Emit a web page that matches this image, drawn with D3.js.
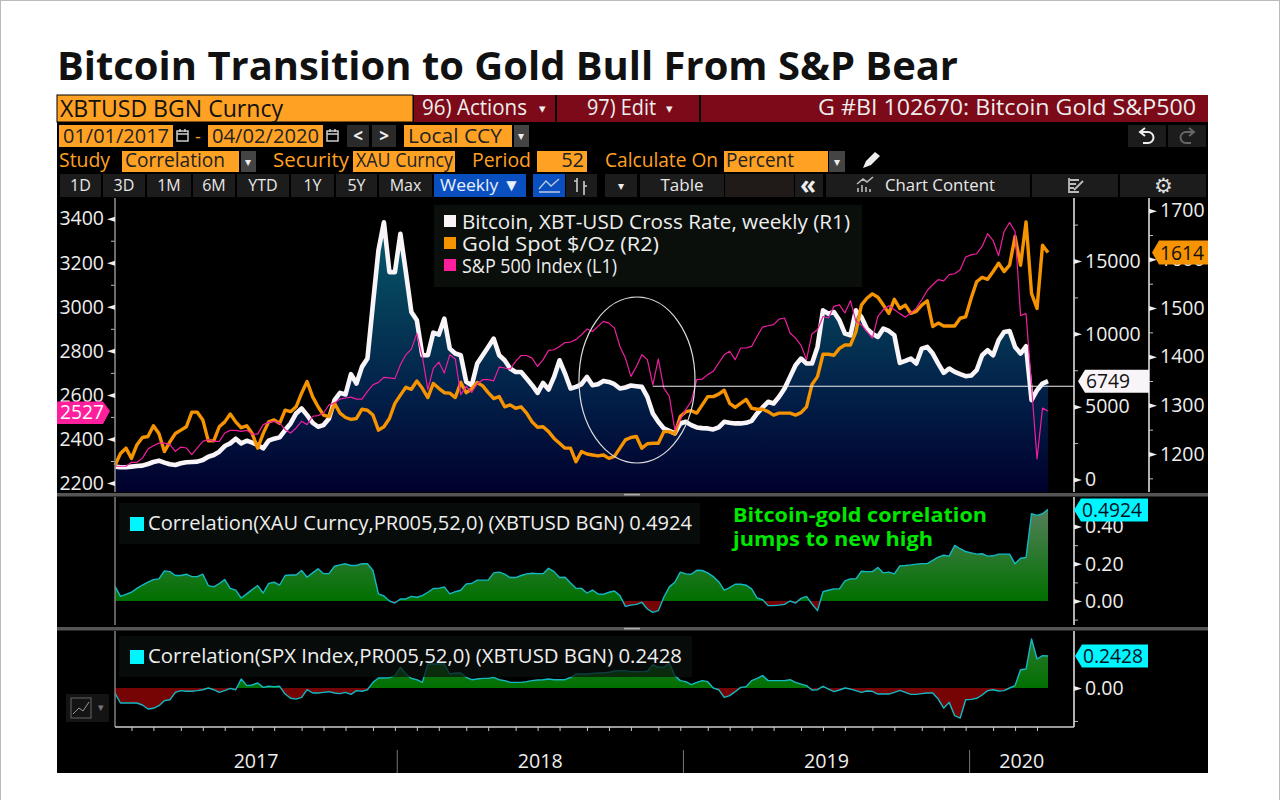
<!DOCTYPE html>
<html>
<head>
<meta charset="utf-8">
<script src="https://cdn.jsdelivr.net/npm/d3@7"></script>
<style>
  body { margin: 0; background: #fff; }
  svg { display: block; }
  text { font-family: "Open Sans", sans-serif; }
</style>
</head>
<body>
<script>
// weekly closes, first one is week ending 2017-01-06
const bitcoin = [883,837,837,883,928,951,1065,1202,1293,1156,1042,996,1111,1179,1202,1224,1339,1567,1681,1909,2298,2480,2800,2480,2663,2526,2366,2138,2663,2800,2891,3393,3850,4535,4878,4421,3896,3622,3736,4193,5448,5950,5836,7229,6590,7731,8302,12069,15721,17662,14238,14238,16863,14238,11498,10927,8530,8530,10083,9946,11043,8987,8645,8528,6700,6473,7960,8528,9097,9672,8528,8186,7617,7384,7384,6932,6473,5946,6630,6179,7042,8186,7275,6247,6357,6542,7042,6473,6542,6768,6700,6542,6247,6316,6453,6405,6357,5672,4535,3960,3507,3343,3165,3850,3960,3733,3576,3528,3507,3439,3576,3960,3891,3850,3850,3891,4028,4535,4946,5334,5220,5676,6247,7046,7845,8302,7959,7959,9101,11612,11384,11498,10927,10014,9900,11612,11155,10357,10014,9786,10357,10197,9900,8005,8142,8302,7959,8987,9101,8644,7959,7320,7617,7389,7229,7092,7137,7503,8530,8872,8530,9557,10128,10197,9101,8644,9147,5448,6133,6590,6749];
const gold = [1177,1201,1212,1191,1219,1234,1236,1258,1242,1205,1225,1242,1249,1256,1286,1286,1270,1227,1227,1256,1266,1282,1266,1254,1258,1242,1212,1242,1266,1270,1263,1290,1287,1297,1325,1349,1318,1297,1280,1277,1304,1284,1275,1271,1273,1292,1290,1280,1249,1256,1273,1304,1321,1337,1333,1350,1335,1316,1345,1335,1326,1325,1316,1347,1326,1334,1347,1340,1326,1314,1318,1297,1301,1294,1297,1284,1266,1255,1256,1246,1232,1222,1212,1212,1184,1205,1200,1198,1196,1198,1191,1195,1212,1229,1234,1236,1212,1221,1222,1222,1246,1246,1241,1277,1287,1289,1284,1301,1318,1318,1323,1331,1304,1296,1304,1312,1294,1292,1292,1287,1280,1284,1284,1284,1280,1285,1297,1343,1359,1405,1405,1403,1417,1424,1424,1451,1506,1520,1529,1522,1506,1489,1518,1499,1506,1489,1493,1506,1515,1462,1469,1463,1463,1463,1479,1482,1520,1554,1563,1559,1575,1592,1575,1588,1647,1588,1677,1530,1499,1629,1614];
const spx = [2276,2276,2276,2294,2294,2313,2354,2369,2381,2381,2374,2344,2363,2359,2329,2359,2389,2397,2389,2389,2427,2439,2439,2434,2439,2422,2422,2465,2475,2480,2472,2442,2427,2450,2480,2465,2503,2506,2518,2555,2563,2581,2586,2590,2581,2581,2616,2646,2657,2680,2677,2674,2737,2782,2808,2878,2775,2624,2720,2749,2699,2782,2763,2601,2639,2611,2651,2669,2669,2664,2726,2722,2717,2752,2779,2779,2767,2729,2760,2802,2805,2820,2838,2840,2851,2873,2899,2888,2911,2934,2926,2903,2820,2767,2684,2729,2782,2760,2646,2763,2631,2593,2442,2487,2533,2571,2669,2672,2692,2707,2745,2782,2798,2760,2813,2813,2820,2866,2908,2914,2919,2944,2949,2881,2858,2825,2760,2878,2896,2956,2949,3002,3009,2972,3028,2934,2919,2888,2858,2956,2987,3005,2987,2969,2953,2972,2994,3032,3074,3100,3123,3118,3146,3150,3168,3226,3236,3241,3274,3332,3301,3232,3342,3383,3342,2961,2969,2639,2309,2540,2527];
const corrGold = [.079,.025,.036,.047,.068,.086,.101,.115,.119,.162,.158,.137,.137,.144,.131,.131,.144,.083,.076,.094,.115,.068,.058,.016,.038,.061,.083,.043,.095,.101,.086,.137,.140,.140,.164,.128,.151,.173,.147,.147,.187,.194,.200,.191,.191,.201,.200,.164,.038,.027,0,-.011,.011,.011,.025,.020,.029,.047,.067,.068,.076,.038,.050,.058,.092,.094,.112,.112,.112,.151,.155,.144,.126,.126,.137,.146,.149,.147,.147,.176,.158,.126,.128,.097,.068,.068,.043,.059,.038,.036,.047,.054,.029,-.029,-.022,-.018,-.007,-.043,-.061,-.052,.020,.076,.101,.155,.146,.144,.165,.164,.151,.131,.104,.059,.072,.090,.090,.085,.065,.016,.007,-.025,-.025,-.022,-.018,0,-.011,.014,.025,-.016,-.052,.050,.058,.065,.065,.108,.119,.119,.160,.158,.158,.180,.151,.155,.146,.189,.191,.194,.198,.201,.201,.218,.236,.246,.241,.299,.281,.266,.259,.252,.254,.241,.243,.252,.252,.252,.200,.230,.234,.469,.460,.469,.4924];
const corrSpx = [-.041,-.114,-.114,-.114,-.114,-.129,-.159,-.154,-.134,-.096,-.089,-.033,-.020,-.025,-.025,-.020,-.013,0,-.013,-.033,-.020,-.003,-.013,.068,.018,.023,.038,.005,.013,.010,.013,-.046,-.078,-.084,-.071,-.013,-.038,-.038,-.033,-.028,-.038,-.043,-.033,-.048,-.020,-.025,-.013,.043,.076,.076,.078,.094,.157,.106,.073,.063,.043,.182,.182,.182,.182,.106,.114,.114,.081,.063,.068,.073,.073,.081,.063,.056,.043,.043,.043,.048,.056,.061,.063,.068,.063,.063,.063,.081,.106,.106,.106,.111,.114,.114,.119,.129,.132,.132,.124,.124,.124,.127,.177,.157,.157,.190,.094,.056,.048,.025,.043,.056,.048,0,-.013,-.071,-.058,-.028,.005,.010,.056,.073,.094,.056,.056,.056,.056,.063,.043,.030,.018,-.015,-.013,.013,-.008,-.028,-.015,0,-.008,-.020,-.033,-.023,-.025,-.046,-.046,-.046,-.033,-.018,-.033,-.048,-.048,-.043,-.038,-.038,-.084,-.152,-.109,-.210,-.228,-.089,-.086,-.078,-.053,-.020,-.013,-.023,-.020,0,.018,.139,.144,.372,.220,.246,.2428];

const spxTicks = [2200,2400,2600,2800,3000,3200,3400];
const btcTicks = [0,5000,10000,15000];
const goldTicks = [1200,1300,1400,1500,1600,1700];
const corrGoldTicks = [0,.2,.4];
const yearLabels = ["2017","2018","2019","2020"];
const legendNames = ["Bitcoin, XBT-USD Cross Rate, weekly (R1)","Gold Spot $/Oz  (R2)","S&P 500 Index  (L1)"];
const legendColors = ["#f8f4f8","#f59300","#ff1e9b"];

const width = 1280, height = 800;
const orange = "#ffa122", red = "#7d0a18", cyan = "#00f5ff";

const svg = d3.select("body").append("svg").attr("width", width).attr("height", height);
svg.append("rect").attr("x", .5).attr("y", .5).attr("width", width - 1).attr("height", height)
  .attr("fill", "#fff").attr("stroke", "#bbb");

function label(x, y, str, o = {}) {
  const t = svg.append("text").attr("x", x).attr("y", y).text(str)
    .attr("fill", o.fill || "#eee").attr("font-size", o.size || 18)
    .attr("text-anchor", o.anchor || "start").attr("font-weight", o.weight || 400);
  if (o.w) t.attr("textLength", o.w).attr("lengthAdjust", "spacingAndGlyphs");
  return t;
}
function box(x, y, w, h, fill, stroke) {
  return svg.append("rect").attr("x", x).attr("y", y).attr("width", w).attr("height", h)
    .attr("fill", fill).attr("stroke", stroke || "none");
}
function icon(d, color, w) {
  svg.append("path").attr("d", d).attr("fill", "none").attr("stroke", color).attr("stroke-width", w || 1.5);
}

label(57, 80, "Bitcoin Transition to Gold Bull From S&P Bear", {size: 40, weight: 700, fill: "#111", w: 901});
box(57, 95, 1151, 678, "#000");

// toolbar rows
box(57, 95, 356, 27, orange, "#000");
label(60, 117, "XBTUSD BGN Curncy", {size: 24, fill: "#111", w: 223});
box(414, 95, 141, 27, red);
label(422, 115, "96) Actions", {size: 22, w: 105});
label(542, 113, "▾", {size: 13, anchor: "middle"});
box(557, 95, 142, 27, red);
label(587, 115, "97) Edit", {size: 22, w: 69});
label(669, 113, "▾", {size: 13, anchor: "middle"});
box(701, 95, 507, 27, red);
label(1196, 115, "G #BI 102670: Bitcoin Gold S&P500", {size: 21, anchor: "end", w: 378});

[[59, 114, "01/01/2017"], [208, 115, "04/02/2020"]].forEach(d => {
  box(d[0], 125, d[1], 22, orange);
  label(d[0] + 4, 143, d[2], {size: 20, fill: "#222", w: d[1] - 8});
  const ix = d[0] + d[1] + 4;
  icon(`M${ix},131 h11 v10 h-11 Z M${ix},134 h11 M${ix + 3},129 v3 M${ix + 8},129 v3`, "#ccc");
});
label(195, 143, "-", {size: 18, fill: orange});
box(347, 125, 22, 22, "#2a2a2a"); label(358, 142, "<", {size: 17, anchor: "middle", weight: 700});
box(372, 125, 24, 22, "#2a2a2a"); label(384, 142, ">", {size: 17, anchor: "middle", weight: 700});
box(404, 125, 108, 22, orange);
label(408, 143, "Local CCY", {size: 20, fill: "#222", w: 94});
box(514, 125, 15, 22, "#444"); label(521, 140, "▾", {size: 12, anchor: "middle"});
box(1128, 125, 38, 22, "#1c1c1c");
icon("M1141,132 h7 a5,5 0 0 1 0,11 h-5 M1145,128 l-5,4 l5,4", "#eee", 2);
box(1168, 125, 38, 22, "#1c1c1c");
icon("M1193,132 h-7 a5,5 0 0 0 0,11 h5 M1189,128 l5,4 l-5,4", "#666", 2);

label(59, 167, "Study", {size: 20, fill: orange, w: 51});
box(122, 151, 117, 21, orange); label(125, 167, "Correlation", {size: 20, fill: "#222", w: 100});
box(241, 151, 15, 21, "#444"); label(248, 166, "▾", {size: 12, anchor: "middle"});
label(273, 167, "Security", {size: 20, fill: orange, w: 76});
box(353, 151, 102, 21, orange); label(356, 167, "XAU Curncy", {size: 20, fill: "#222", w: 97});
label(472, 167, "Period", {size: 20, fill: orange, w: 59});
box(537, 151, 50, 21, orange); label(584, 167, "52", {size: 20, fill: "#222", anchor: "end"});
label(605, 167, "Calculate On", {size: 20, fill: orange, w: 113});
box(724, 151, 104, 21, orange); label(726, 167, "Percent", {size: 20, fill: "#222", w: 68});
box(829, 151, 16, 21, "#444"); label(837, 166, "▾", {size: 12, anchor: "middle"});
svg.append("path").attr("d", "M863,168 L866,161 L875,152 L880,156 L871,165 Z").attr("fill", "#eee");

const periodButtons = [["1D",59,102],["3D",102,146],["1M",146,192],["6M",192,236],["YTD",236,290],["1Y",290,335],["5Y",335,378],["Max",378,433]];
periodButtons.forEach(d => {
  box(d[1] + 1, 174, d[2] - d[1] - 2, 23, "#1c1c1c");
  label((d[1] + d[2]) / 2, 191, d[0], {size: 16, anchor: "middle", fill: "#e8e8e8"});
});
box(434, 174, 92, 23, "#0a4fc0"); label(440, 191, "Weekly ▼", {size: 17, fill: "#e8f0ff", w: 80});
box(533, 174, 32, 23, "#0a4fc0");
icon("M539,189 L546,181 L551,186 L559,179 M539,192 H560", "#bcd", 1.3);
box(566, 174, 31, 23, "#1c1c1c");
icon("M577,178 V192 M574,181 H577 M584,181 V195 M584,186 H587", "#ccc", 1.6);
box(605, 174, 32, 23, "#1c1c1c"); label(621, 190, "▾", {size: 12, anchor: "middle"});
box(640, 174, 84, 23, "#1c1c1c"); label(682, 191, "Table", {size: 17, anchor: "middle", fill: "#e8e8e8"});
box(725, 174, 69, 23, "#201a18");
box(795, 174, 28, 23, "#1c1c1c"); label(808, 194, "«", {size: 26, anchor: "middle", weight: 700});
box(826, 174, 204, 23, "#1c1c1c"); label(885, 191, "Chart Content", {size: 17, fill: "#e8e8e8", w: 110});
icon("M858,192 V188 M862,192 V185 M866,192 V187 M870,192 V189 M857,184 L863,179 L867,182 L873,177", "#bbb", 1.6);
box(1032, 174, 86, 23, "#1c1c1c");
icon("M1069,180 H1079 M1069,184 H1076 M1069,188 H1074 M1069,178 V192 H1079 M1074,190 L1083,181", "#bbb", 1.8);
box(1120, 174, 86, 23, "#1c1c1c"); label(1163, 193, "⚙", {size: 21, anchor: "middle", fill: "#ddd"});

// scales
const firstWeek = new Date(2017, 0, 6);
const dates = bitcoin.map((_, i) => d3.timeDay.offset(firstWeek, i * 7));
const x = d3.scaleTime().domain([firstWeek, dates[dates.length - 1]]).range([115, 1048]);
const axisRight1 = 1074, axisRight2 = 1149;

const ySpx = d3.scaleLinear().domain([2200, 3400]).range([483, 218.7]);
const yBtc = d3.scaleLinear().domain([0, 15000]).range([479.5, 261]);
const yGold = d3.scaleLinear().domain([1200, 1700]).range([454, 210.7]);
const yCorrGold = d3.scaleLinear().domain([0, .4]).range([601, 526.6]);
const yCorrSpx = d3.scaleLinear().domain([0, .2428]).range([688, 656]);

const defs = svg.append("defs");
function gradient(id, y1, y2, stops) {
  const g = defs.append("linearGradient").attr("id", id).attr("gradientUnits", "userSpaceOnUse")
    .attr("x1", 0).attr("x2", 0).attr("y1", y1).attr("y2", y2);
  stops.forEach(s => g.append("stop").attr("offset", s[0]).attr("stop-color", s[1]));
}
gradient("btcFill", 222, 492, [[0, "#07596e"], [.3, "#053f58"], [.65, "#021f48"], [1, "#00002c"]]);

// main panel
const btcArea = d3.area().x((d, i) => x(dates[i])).y0(492).y1(d => yBtc(d));
svg.append("path").datum(bitcoin).attr("d", btcArea).attr("fill", "url(#btcFill)");

function drawLine(values, yScale, color, w) {
  svg.append("path").datum(values)
    .attr("d", d3.line().x((d, i) => x(dates[i])).y(d => yScale(d)))
    .attr("fill", "none").attr("stroke", color).attr("stroke-width", w).attr("stroke-linejoin", "round");
}
drawLine(bitcoin, yBtc, "#f8f4f8", 4.6);
drawLine(gold, yGold, "#f59300", 3.4);
drawLine(spx, ySpx, "#f01ea0", 1.2);

// annotations on the main panel
svg.append("line").attr("x1", x(dates[98])).attr("x2", axisRight1).attr("y1", yBtc(6400)).attr("y2", yBtc(6400))
  .attr("stroke", "#eee").attr("stroke-width", 1.2);
svg.append("ellipse").attr("cx", 637).attr("cy", 380).attr("rx", 58).attr("ry", 83)
  .attr("fill", "none").attr("stroke", "#ddd").attr("stroke-width", 1.2);

// axes
function styleAxis(g, color) {
  g.select(".domain").attr("stroke", color).attr("stroke-width", 1.6);
  g.selectAll("text").attr("fill", "#eee").attr("font-size", 19.5).attr("font-family", "Open Sans");
  g.selectAll("line").attr("stroke", "#ddd");
}
function wedges(g, dir) {
  g.selectAll(".tick").append("path").attr("d", `M0,-2.5 L${8 * dir},0 L0,2.5 Z`).attr("fill", "#eee");
}
function yAxis(scale, ticks, minor, xPos, dir, top, bottom, fmt) {
  const mk = dir > 0 ? d3.axisRight : d3.axisLeft;
  const inRange = minor.filter(v => scale(v) > top && scale(v) < bottom);
  const gm = svg.append("g").attr("transform", `translate(${xPos},0)`)
    .call(mk(scale).tickValues(inRange).tickSize(4).tickFormat(""));
  gm.select(".domain").remove();
  gm.selectAll("line").attr("stroke", "#bbb");
  const g = svg.append("g").attr("transform", `translate(${xPos},0)`)
    .call(mk(scale).tickValues(ticks).tickSize(0).tickPadding(11).tickFormat(fmt || d3.format("d")));
  g.select(".domain").attr("d", `M0,${top}V${bottom}`);
  styleAxis(g, dir > 0 ? "#ddd" : "#888");
  wedges(g, dir);
  return g;
}
yAxis(ySpx, spxTicks, [2300,2500,2700,2900,3100,3300], 115, -1, 198, 492);
yAxis(yBtc, btcTicks, [2500,7500,12500,17500], axisRight1, 1, 198, 492);
yAxis(yGold, goldTicks, [1150,1250,1350,1450,1550,1650], axisRight2, 1, 198, 492);

// legend
box(434, 205, 428, 82, "#0a0f0c");
legendNames.forEach((name, i) => {
  box(444, 215 + i * 22, 12, 12, legendColors[i]);
  label(462, 229 + i * 22, name, {size: 20, w: [388, 197, 155][i]});
});

// correlation panels
function corrPanel(id, values, y, top, bottom) {
  gradient(id + "Pos", y(0) - 92, y(0), [[0, "#54805a"], [1, "#007000"]]);
  const base = y(0);
  defs.append("clipPath").attr("id", id + "Above").append("rect")
    .attr("x", 100).attr("y", top).attr("width", 1000).attr("height", base - top);
  defs.append("clipPath").attr("id", id + "Below").append("rect")
    .attr("x", 100).attr("y", base).attr("width", 1000).attr("height", bottom - base);
  const area = d3.area().x((d, i) => x(dates[i])).y0(base).y1(d => y(d));
  svg.append("path").datum(values).attr("d", area).attr("fill", `url(#${id}Pos)`).attr("clip-path", `url(#${id}Above)`);
  svg.append("path").datum(values).attr("d", area).attr("fill", "#760404").attr("clip-path", `url(#${id}Below)`);
  drawLine(values, y, "#14b8c4", 1.4);
}
corrPanel("cg", corrGold, yCorrGold, 497, 625);
corrPanel("cs", corrSpx, yCorrSpx, 631, 727);

yAxis(yCorrGold, corrGoldTicks, [-.1,.1,.3], axisRight1, 1, 497, 625, d3.format(".2f"));
yAxis(yCorrSpx, [0], [-.25], axisRight1, 1, 631, 727, d3.format(".2f"));

[[119, 503, 581, 41, "Correlation(XAU Curncy,PR005,52,0) (XBTUSD BGN) 0.4924", 544],
 [119, 636, 573, 41, "Correlation(SPX Index,PR005,52,0) (XBTUSD BGN) 0.2428", 534]].forEach(d => {
  box(d[0], d[1], d[2], d[3], "#0a0f0c").attr("fill-opacity", .72);
  box(130, d[1] + 14, 14, 14, cyan);
  label(148, d[1] + 27, d[4], {size: 20, w: d[5]});
});
label(733, 522, "Bitcoin-gold correlation", {size: 20, weight: 700, fill: "#00e800", w: 254});
label(733, 546, "jumps to new high", {size: 20, weight: 700, fill: "#00e800", w: 200});

// panel dividers
[493, 627].forEach(yy => {
  box(57, yy, 1151, 3.5, "#555");
  box(624, yy + .8, 16, 1.6, "#aaa");
});
svg.append("line").attr("x1", 115).attr("x2", 115).attr("y1", 497).attr("y2", 625).attr("stroke", "#888").attr("stroke-width", 1.4);
svg.append("line").attr("x1", 115).attr("x2", 115).attr("y1", 631).attr("y2", 727).attr("stroke", "#888").attr("stroke-width", 1.4);

// bottom time axis, month ticks sit on the last weekly close before the month
const monthTicks = d3.timeMonth.range(new Date(2017, 1, 1), new Date(2020, 4, 1)).map(m => d3.timeFriday.floor(m));
const gx = svg.append("g").attr("transform", "translate(0,727)")
  .call(d3.axisBottom(x).tickValues(monthTicks).tickSize(4).tickFormat(""));
gx.select(".domain").attr("d", `M115,0H${axisRight1}`).attr("stroke", "#ccc").attr("stroke-width", 1.4);
gx.selectAll("line").attr("stroke", "#ccc");

const yearEdges = [115, x(new Date(2018, 0, 1)), x(new Date(2019, 0, 1)), x(new Date(2020, 0, 1)), axisRight1];
yearEdges.slice(1, 4).forEach(v => {
  svg.append("line").attr("x1", v).attr("x2", v).attr("y1", 750).attr("y2", 773).attr("stroke", "#777");
});
yearLabels.forEach((yr, i) => {
  label((yearEdges[i] + yearEdges[i + 1]) / 2, 768, yr, {size: 19.5, anchor: "middle", w: 45});
});

// chart type icon
box(66, 694, 43, 28, "#141414");
box(71, 698, 20, 20, "none", "#666");
icon("M73,714 L79,708 L83,711 L89,702", "#999", 1);
label(101, 711, "▾", {size: 11, anchor: "middle", fill: "#777"});

// last value tags
function tagLeft(xa, xb, yc, h, fill, str, color, textW) {
  svg.append("path").attr("d", `M${xa},${yc} L${xa + 7},${yc - h / 2} H${xb} V${yc + h / 2} H${xa + 7} Z`).attr("fill", fill);
  label(xa + 8, yc + 7, str, {size: 20, fill: color, w: textW});
}
tagLeft(1078, 1149, yBtc(6749), 23, "#f8f4f8", "6749", "#111", 44);
tagLeft(1152, 1208, yGold(1614), 24, "#f59300", "1614", "#111", 44);
tagLeft(1074, 1148, 510, 23, cyan, "0.4924", "#012", 60);
tagLeft(1075, 1148, yCorrSpx(.2428), 23, cyan, "0.2428", "#012", 60);
svg.append("path").attr("d", `M57,401.5 H103 L110,${ySpx(2527)} L103,424 H57 Z`).attr("fill", "#ff1e9b");
label(60, 419, "2527", {size: 20, fill: "#fff", w: 44});
</script>
</body>
</html>
